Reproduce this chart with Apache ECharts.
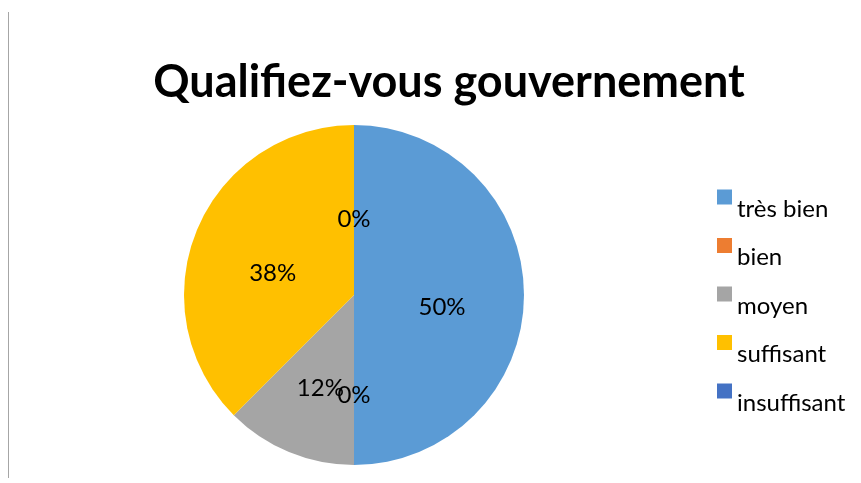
<!DOCTYPE html>
<html>
<head>
<meta charset="utf-8">
<script src="https://cdn.jsdelivr.net/npm/echarts@6/dist/echarts.min.js"></script>
<style>
  html, body { margin: 0; padding: 0; background: #ffffff; }
  #chart { width: 861px; height: 483px; }
</style>
</head>
<body>
<div id="chart"></div>
<script>
var categories = ['très bien', 'bien', 'moyen', 'suffisant', 'insuffisant'];
var counts = [4, 0, 1, 3, 0];
var percentLabels = ['50%', '0%', '12%', '38%', '0%'];
var colors = ['#5B9BD5', '#ED7D31', '#A5A5A5', '#FFC000', '#4472C4'];

var myChart = echarts.init(document.getElementById('chart'));

var pieData = categories.map(function (name, i) {
    return { name: name, value: counts[i] };
});

var option = {
    animation: false,
    color: colors,
    title: {
        text: 'Qualifiez-vous gouvernement',
        left: 444,
        top: 55,
        textAlign: 'center',
        textStyle: {
            fontFamily: 'Lato',
            fontWeight: 'bold',
            fontSize: 45,
            color: '#000000'
        }
    },
    legend: {
        orient: 'vertical',
        left: 712,
        top: 168,
        itemWidth: 15,
        itemHeight: 15,
        itemGap: 0.5,
        icon: 'rect',
        data: categories,
        formatter: '{t|{name}}',
        textStyle: {
            rich: {
                t: {
                    fontFamily: 'Lato',
                    fontSize: 24,
                    lineHeight: 29,
                    color: '#000000',
                    padding: [24, 0, 0, 0]
                }
            }
        }
    },
    graphic: [{
        type: 'line',
        shape: { x1: 8.5, y1: 12, x2: 8.5, y2: 478 },
        style: { stroke: '#a6a6a6', lineWidth: 1 }
    }],
    series: [{
        type: 'pie',
        center: [354, 295],
        radius: 170,
        startAngle: 90,
        clockwise: true,
        avoidLabelOverlap: false,
        stillShowZeroSum: true,
        data: pieData,
        itemStyle: { borderWidth: 0 },
        label: {
            show: true,
            position: 'inside',
            offset: [0, 12],
            fontFamily: 'Lato',
            fontSize: 24,
            color: '#000000',
            formatter: function (p) { return percentLabels[p.dataIndex]; }
        },
        labelLayout: { hideOverlap: false },
        labelLine: { show: false },
        emphasis: { disabled: true }
    }]
};

myChart.setOption(option);
window.onresize = function () { myChart.resize(); };
</script>
</body>
</html>
